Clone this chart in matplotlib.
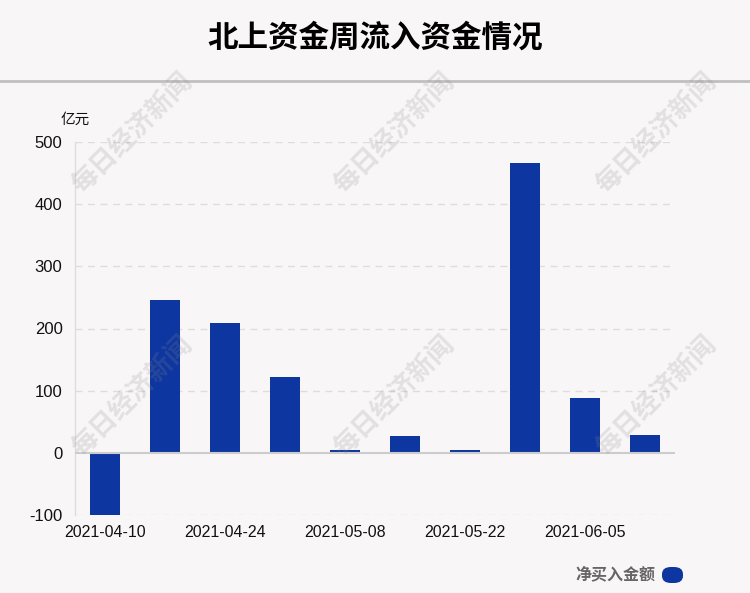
import matplotlib
matplotlib.use("Agg")
import matplotlib.pyplot as plt
from matplotlib.patches import FancyBboxPatch

plt.rcParams['font.family'] = ['Liberation Sans', 'Noto Sans CJK SC', 'DejaVu Sans']

dates = ["2021-04-10", "2021-04-17", "2021-04-24", "2021-05-01", "2021-05-08",
         "2021-05-15", "2021-05-22", "2021-05-29", "2021-06-05", "2021-06-12"]
values = [-100, 246, 209, 122, 5, 27, 4.5, 467, 88, 29]
yticks = [-100, 0, 100, 200, 300, 400, 500]

W, H = 750, 593
bg = '#f9f6f7'
blue = '#0e36a0'
fig = plt.figure(figsize=(W/100, H/100), dpi=100, facecolor=bg)

ax = fig.add_axes([75/W, 1-515/H, 600/W, (515-142)/H])
ax.set_facecolor(bg)
x = list(range(len(dates)))
ax.bar(x, values, width=0.5, color=blue, zorder=3)
ax.set_xlim(-0.5, len(dates)-0.5)
ax.set_ylim(-100, 500)
ax.set_yticks(yticks)
ax.set_yticklabels([str(v) for v in yticks], fontsize=12, color='#111111')
ax.set_xticks(x[::2])
ax.set_xticklabels(dates[::2], fontsize=11.5, color='#111111')
ax.tick_params(axis='x', length=0, pad=7)
ax.tick_params(axis='y', length=0, pad=9)
for s in ['top', 'right', 'bottom']:
    ax.spines[s].set_visible(False)
ax.spines['left'].set_color('#dddddd')
ax.spines['left'].set_linewidth(1)
for v in yticks:
    if v != 0:
        ax.axhline(v, color='#dddddd', lw=1, ls=(0, (5, 4)), zorder=1, xmax=0.995)
ax.axhline(0, color='#cccccc', lw=1.5, zorder=4, xmax=1.0)

fig.text(0.5, 1-38/H, "北上资金周流入资金情况", ha='center', va='center',
         fontsize=22, fontweight='heavy', family=['Noto Sans CJK SC'], color='#000000')
fig.add_artist(plt.Line2D([0, 1], [1-81/H, 1-81/H], color='#c0c0c0', lw=2))
fig.text(75/W, 1-120/H, "亿元", ha='center', va='center', fontsize=10.5,
         family=['Noto Sans CJK SC'], color='#111111')

# legend
fig.text(655/W, 1-574/H, "净买入金额", ha='right', va='center', fontsize=11.5,
         fontweight='bold', family=['Noto Sans CJK SC'], color='#666666')
leg = FancyBboxPatch((662/W, 1-583/H), 21/W, 16/H,
                     boxstyle="round,pad=0,rounding_size=0.012",
                     transform=fig.transFigure, facecolor=blue, edgecolor='none')
fig.add_artist(leg)

# watermarks
for cx in [132, 394, 656]:
    for cy in [133, 396]:
        fig.text(cx/W, 1-cy/H, "每日经济新闻", ha='center', va='center', rotation=45,
                 fontsize=19, fontweight='bold', family=['Noto Sans CJK SC'],
                 color='#888888', alpha=0.2, zorder=10)

fig.savefig("out.png", dpi=100, facecolor=bg)
